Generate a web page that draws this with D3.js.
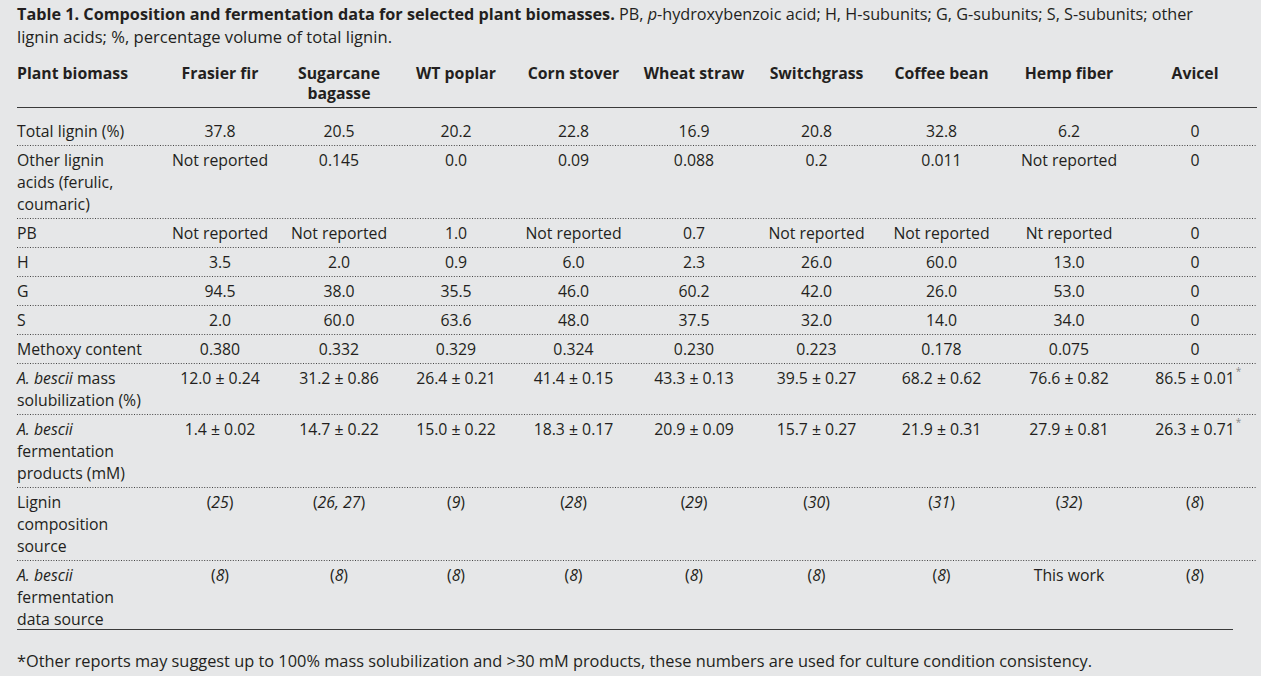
<!DOCTYPE html>
<html><head><meta charset="utf-8">
<script src="https://cdn.jsdelivr.net/npm/d3@7"></script>
<style>
body{margin:0;background:#e6e7e8;}
svg text{font-family:"Open Sans","Noto Sans",sans-serif;fill:#231f20;font-weight:500;}
</style>
</head><body>
<svg id="chart" width="1261" height="676"></svg>
<script>
// ---------- data ----------
const captionBold = "Table 1. Composition and fermentation data for selected plant biomasses.";
const captionRest1 = " PB, _p_-hydroxybenzoic acid; H, H-subunits; G, G-subunits; S, S-subunits; other";
const captionLine2 = "lignin acids; %, percentage volume of total lignin.";
const footnote = "*Other reports may suggest up to 100% mass solubilization and >30 mM products, these numbers are used for culture condition consistency.";

const headerLabel = ["Plant biomass"];
const biomasses = [["Frasier fir"],["Sugarcane","bagasse"],["WT poplar"],["Corn stover"],["Wheat straw"],["Switchgrass"],["Coffee bean"],["Hemp fiber"],["Avicel"]];

const rowLabels = [
  ["Total lignin (%)"],
  ["Other lignin","acids (ferulic,","coumaric)"],
  ["PB"],
  ["H"],
  ["G"],
  ["S"],
  ["Methoxy content"],
  ["_A. bescii_ mass","solubilization (%)"],
  ["_A. bescii_","fermentation","products (mM)"],
  ["Lignin","composition","source"],
  ["_A. bescii_","fermentation","data source"]
];

const totalLignin = ["37.8","20.5","20.2","22.8","16.9","20.8","32.8","6.2","0"];
const otherLigninAcids = ["Not reported","0.145","0.0","0.09","0.088","0.2","0.011","Not reported","0"];
const pbValues = ["Not reported","Not reported","1.0","Not reported","0.7","Not reported","Not reported","Nt reported","0"];
const hSubunits = ["3.5","2.0","0.9","6.0","2.3","26.0","60.0","13.0","0"];
const gSubunits = ["94.5","38.0","35.5","46.0","60.2","42.0","26.0","53.0","0"];
const sSubunits = ["2.0","60.0","63.6","48.0","37.5","32.0","14.0","34.0","0"];
const methoxyContent = ["0.380","0.332","0.329","0.324","0.230","0.223","0.178","0.075","0"];
const massSolubilization = [12.0,31.2,26.4,41.4,43.3,39.5,68.2,76.6,86.5];
const massSolubilizationErr = [0.24,0.86,0.21,0.15,0.13,0.27,0.62,0.82,0.01];
const fermentationProducts = [1.4,14.7,15.0,18.3,20.9,15.7,21.9,27.9,26.3];
const fermentationProductsErr = [0.02,0.22,0.22,0.17,0.09,0.27,0.31,0.81,0.71];
const ligninSource = ["(_25_)","(_26, 27_)","(_9_)","(_28_)","(_29_)","(_30_)","(_31_)","(_32_)","(_8_)"];
const fermentationSource = ["(_8_)","(_8_)","(_8_)","(_8_)","(_8_)","(_8_)","(_8_)","This work","(_8_)"];
const starred = [false,false,false,false,false,false,false,false,true];

// ---------- layout ----------
const W = 1261, H = 676;
const left = 17, right = 1257, bottomRight = 1233;
const colWidths = [143,120,118,116,119,122,123,127,128,124]; // label col + 9 data columns
const fs = 15.8, lineH = 22;

const f1 = d3.format(".1f"), f2 = d3.format(".2f");
const pm = (v,e) => f1(v) + " \u00b1 " + f2(e);

const rows = [
  totalLignin, otherLigninAcids, pbValues, hSubunits, gSubunits, sSubunits, methoxyContent,
  massSolubilization.map((v,i)=>pm(v,massSolubilizationErr[i])),
  fermentationProducts.map((v,i)=>pm(v,fermentationProductsErr[i])),
  ligninSource, fermentationSource
];
const starRows = [7,8];

const svg = d3.select("#chart");
svg.append("rect").attr("width",W).attr("height",H).attr("fill","#e6e7e8");

// column scale: cumulative edges
const edges = d3.cumsum([0].concat(colWidths)).map(d=>d+left);
const x = d3.scaleOrdinal().domain(d3.range(colWidths.length)).range(d3.range(colWidths.length).map(i=>(edges[i]+edges[i+1])/2));

function richText(sel, str){
  const parts = str.split("_");
  parts.forEach((p,i)=>{ if(p.length) sel.append("tspan").attr("font-style", i%2 ? "italic" : null).text(p); });
}

// caption
const cap = svg.append("text").attr("x",left).attr("y",20).attr("font-size",fs);
cap.append("tspan").attr("font-weight","bold").text(captionBold);
richText(cap, captionRest1);
cap.attr("textLength",1176).attr("lengthAdjust","spacingAndGlyphs");
svg.append("text").attr("x",left).attr("y",43).attr("font-size",fs)
  .attr("textLength",375).attr("lengthAdjust","spacingAndGlyphs").text(captionLine2);

// header
const headerY = 73;
svg.append("text").attr("x",left).attr("y",headerY).attr("dy","0.35em")
  .attr("font-size",fs).style("font-weight","bold").text(headerLabel[0]);
biomasses.forEach((lines,i)=>{
  lines.forEach((l,k)=>{
    svg.append("text").attr("x",x(i+1)).attr("y",headerY + k*20).attr("dy","0.35em")
      .attr("text-anchor","middle").attr("font-size",fs).style("font-weight","bold").text(l);
  });
});
svg.append("line").attr("x1",left).attr("x2",right).attr("y1",107.5).attr("y2",107.5)
  .attr("stroke","#3a3a3a").attr("stroke-width",1.2);

// body rows
let rowTop = 107;
rows.forEach((vals,r)=>{
  const n = rowLabels[r].length;
  const padTop = r===0 ? 24 : 15;
  const firstY = rowTop + padTop;
  rowLabels[r].forEach((l,k)=>{
    const t = svg.append("text").attr("x",left).attr("y",firstY + k*lineH).attr("dy","0.35em").attr("font-size",fs);
    richText(t,l);
  });
  vals.forEach((v,i)=>{
    const t = svg.append("text").attr("x",x(i+1)).attr("y",firstY).attr("dy","0.35em")
      .attr("text-anchor","middle").attr("font-size",fs);
    richText(t,v);
    if(starRows.includes(r) && starred[i]){
      const bb = t.node().getBBox();
      svg.append("text").attr("x",bb.x+bb.width+1).attr("y",firstY-3)
        .attr("font-size",10).style("fill","#8a8a8a").text("*");
    }
  });
  let bottom = firstY + (n-1)*lineH + 14;
  if(r === rows.length-1){
    bottom = firstY + (n-1)*lineH + 10;
    svg.append("line").attr("x1",left).attr("x2",bottomRight).attr("y1",bottom+0.5).attr("y2",bottom+0.5)
      .attr("stroke","#3a3a3a").attr("stroke-width",1.2);
  } else {
    svg.append("line").attr("x1",left).attr("x2",right).attr("y1",bottom+0.5).attr("y2",bottom+0.5)
      .attr("stroke","#444").attr("stroke-width",1).attr("stroke-dasharray","1,1.6");
  }
  rowTop = bottom;
});

// footnote
svg.append("text").attr("x",left).attr("y",661).attr("dy","0.35em").attr("font-size",fs)
  .attr("textLength",1075).attr("lengthAdjust","spacingAndGlyphs").text(footnote);
</script>
</body></html>
